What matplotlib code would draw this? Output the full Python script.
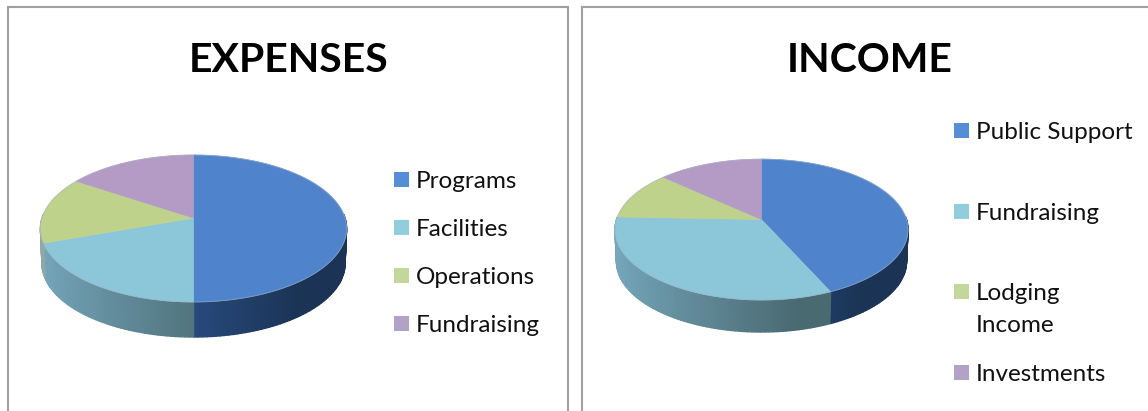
import numpy as np
import matplotlib
matplotlib.use("Agg")
import matplotlib.pyplot as plt
from matplotlib.colors import to_rgb
from matplotlib.patches import Rectangle

expense_labels = ["Programs", "Facilities", "Operations", "Fundraising"]
expense_values = [50.0, 19.6, 14.7, 15.7]
income_labels = ["Public Support", "Fundraising", "Lodging\nIncome", "Investments"]
income_values = [43.2, 32.4, 11.1, 13.3]

W, H = 1148, 411
FONT = "Lato"
top_colors = ["#4f83cc", "#8cc6d9", "#bfd28c", "#b39bc6"]
legend_colors = ["#558ed5", "#93cddd", "#c3d69b", "#b3a2c7"]
K = 1 / 7


def side_color(i, u):
    if i == 0:
        t = np.clip(u / 0.6, 0, 1)
        a, b = to_rgb("#27497b"), to_rgb("#1b3456")
    elif i == 1:
        t = np.clip((u + 1) / 1.2, 0, 1)
        a, b = to_rgb("#76a8bd"), to_rgb("#4a6a72")
    else:
        t = 0.0
        a, b = to_rgb("#8fa9a8"), to_rgb("#8fa9a8")
    return tuple(np.array(a) * (1 - t) + np.array(b) * t)


def project(ang, cx, ay, rx, b, scale=1.0, dy=0.0):
    u, v = np.sin(ang), -np.cos(ang)
    w = 1 - K * v
    return cx + scale * rx * u / w, ay + b * v / w + dy


def draw_pie(ax, values, cx, ay, rx, b, depth):
    fracs = np.array(values) / np.sum(values)
    edges = np.concatenate([[0], np.cumsum(fracs)]) * 2 * np.pi
    # side wall
    for i in range(len(values)):
        angs = np.linspace(edges[i], edges[i + 1], max(int((edges[i + 1] - edges[i]) * 40), 2))
        for a0, a1 in zip(angs[:-1], angs[1:]):
            if -np.cos((a0 + a1) / 2) < -0.05:
                continue
            x0, y0 = project(np.array([a0, a1]), cx, ay, rx, b)
            x1, y1 = project(np.array([a1, a0]), cx, ay, rx, b, 0.99, depth)
            c = side_color(i, np.sin((a0 + a1) / 2))
            ax.fill(np.r_[x0, x1], np.r_[y0, y1], color=c, lw=1.0, zorder=2)
    # top face
    for i in range(len(values)):
        angs = np.linspace(edges[i], edges[i + 1], 200)
        x, y = project(angs, cx, ay, rx, b)
        ax.fill(np.r_[cx, x], np.r_[ay, y], facecolor=top_colors[i],
                edgecolor=top_colors[i], lw=0.5, zorder=3)
    # soft rim
    angs = np.linspace(0, 2 * np.pi, 400)
    x, y = project(angs, cx, ay, rx, b)
    ax.plot(x, y, color="#aab4c4", lw=0.7, alpha=0.55, zorder=4)


def make_chart(x0, x1, title, title_x, labels, values, text_x, box_x, ys, text_ys, pie):
    ax = fig.add_axes([x0 / W, 1 - 440 / H, (x1 - x0) / W, (440 - 7) / H])
    ax.set_xlim(x0, x1)
    ax.set_ylim(440, 7)
    ax.set_xticks([])
    ax.set_yticks([])
    for s in ax.spines.values():
        s.set_color("#a0a0a0")
        s.set_linewidth(1.5)
    ax.text(title_x, 60, title, fontsize=29.5, fontweight="bold", family=FONT,
            ha="center", va="center", color="black")
    draw_pie(ax, values, *pie)
    for i, lab in enumerate(labels):
        ax.add_patch(Rectangle((box_x, ys[i] - 7.5), 15, 15, facecolor=legend_colors[i], edgecolor="none"))
        for j, line in enumerate(lab.split("\n")):
            ax.text(text_x, text_ys[i][j], line, fontsize=17.5, family=FONT, ha="left",
                    va="center_baseline", color="#111111")
    return ax


fig = plt.figure(figsize=(W / 100, H / 100), dpi=100)
make_chart(7.5, 567.5, "EXPENSES", 288.5, expense_labels, expense_values, 416, 394,
           [179.3, 227, 275, 323], [[179], [227], [275], [323]],
           (193.5, 218, 151.5, 72, 35))
make_chart(582, 1170, "INCOME", 869.5, income_labels, income_values, 976, 954,
           [130.3, 211, 291, 372], [[130], [211], [291, 323], [372]],
           (761.5, 219.5, 145, 69, 32))
fig.savefig("out.png", dpi=100)
